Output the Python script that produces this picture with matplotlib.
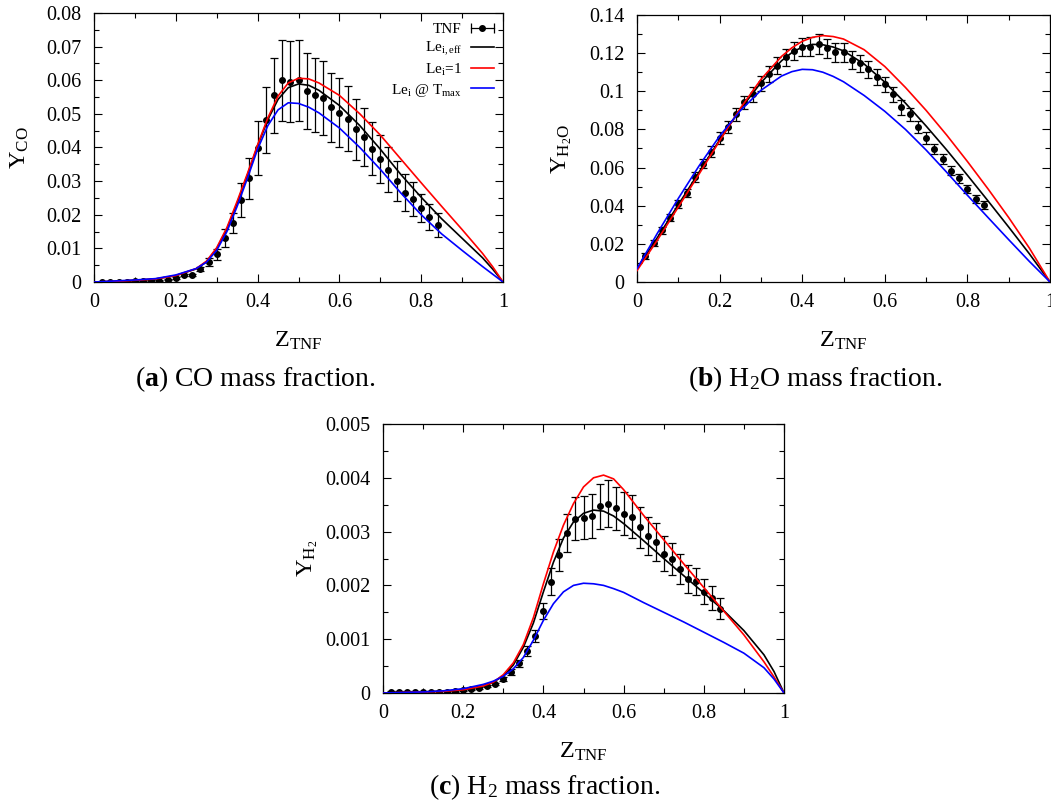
import numpy as np
import matplotlib
matplotlib.use('Agg')
import matplotlib.pyplot as plt
from matplotlib.ticker import MultipleLocator, FuncFormatter
from matplotlib.legend_handler import HandlerBase
from matplotlib.lines import Line2D
from matplotlib.container import ErrorbarContainer

plt.rcParams['font.family'] = ['Liberation Serif', 'DejaVu Serif']
plt.rcParams['mathtext.fontset'] = 'custom'
plt.rcParams['mathtext.rm'] = 'Liberation Serif'
plt.rcParams['mathtext.it'] = 'Liberation Serif:italic'
plt.rcParams['mathtext.bf'] = 'Liberation Serif:bold'

# ---------------- experimental (TNF) data ----------------
z_tnf = [0.02, 0.04, 0.06, 0.08, 0.10, 0.12, 0.14, 0.16, 0.18, 0.20, 0.22,
         0.24, 0.26, 0.28, 0.30, 0.32, 0.34, 0.36, 0.38, 0.40, 0.42, 0.44,
         0.46, 0.48, 0.50, 0.52, 0.54, 0.56, 0.58, 0.60, 0.62, 0.64, 0.66,
         0.68, 0.70, 0.72, 0.74, 0.76, 0.78, 0.80, 0.82, 0.84]

co_tnf = [0.0000, 0.0000, 0.0001, 0.0001, 0.0002, 0.0002, 0.0003, 0.0004, 0.0007,
          0.0011, 0.0020, 0.0022, 0.0039, 0.0059, 0.0082, 0.0132, 0.0176, 0.0244,
          0.0308, 0.0398, 0.0482, 0.0555, 0.0600, 0.0596, 0.0600, 0.0568, 0.0556,
          0.0546, 0.0519, 0.0504, 0.0486, 0.0454, 0.0431, 0.0397, 0.0366, 0.0334,
          0.0301, 0.0266, 0.0247, 0.0219, 0.0194, 0.0169]
co_err = [0.0001, 0.0001, 0.0001, 0.0001, 0.0001, 0.0001, 0.0002, 0.0002, 0.0002,
          0.0003, 0.0003, 0.0003, 0.0007, 0.0012, 0.0016, 0.0027, 0.0030, 0.0050,
          0.0062, 0.0080, 0.0097, 0.0112, 0.0120, 0.0120, 0.0120, 0.0113, 0.0111,
          0.0110, 0.0104, 0.0102, 0.0097, 0.0090, 0.0087, 0.0080, 0.0072, 0.0067,
          0.0060, 0.0054, 0.0050, 0.0042, 0.0038, 0.0035]

h2o_tnf = [0.0135, 0.0205, 0.0271, 0.0338, 0.0408, 0.0467, 0.0551, 0.0621, 0.0683,
           0.0756, 0.0814, 0.0879, 0.0942, 0.0984, 0.1041, 0.1090, 0.1134, 0.1178,
           0.1213, 0.1234, 0.1234, 0.1248, 0.1225, 0.1204, 0.1204, 0.1164, 0.1146,
           0.1115, 0.1073, 0.1036, 0.0984, 0.0915, 0.0879, 0.0814, 0.0756, 0.0698,
           0.0646, 0.0583, 0.0543, 0.0488, 0.0436, 0.0404]
h2o_err = [0.0015, 0.0015, 0.0018, 0.0018, 0.0020, 0.0020, 0.0025, 0.0025, 0.0030,
           0.0030, 0.0032, 0.0035, 0.0035, 0.0038, 0.0040, 0.0042, 0.0045, 0.0045,
           0.0048, 0.0048, 0.0050, 0.0050, 0.0050, 0.0050, 0.0048, 0.0048, 0.0045,
           0.0045, 0.0042, 0.0040, 0.0040, 0.0038, 0.0035, 0.0032, 0.0030, 0.0028,
           0.0026, 0.0024, 0.0022, 0.0020, 0.0020, 0.0020]

h2_tnf = [0.00002, 0.00002, 0.00002, 0.00002, 0.00001, 0.00001, 0.00001, 0.00002,
          0.00004, 0.00006, 0.00007, 0.00010, 0.00013, 0.00016, 0.00026, 0.00039,
          0.00055, 0.00078, 0.00106, 0.00152, 0.00207, 0.00256, 0.00297, 0.00324,
          0.00326, 0.00329, 0.00347, 0.00352, 0.00343, 0.00333, 0.00328, 0.00308,
          0.00292, 0.00281, 0.00259, 0.00249, 0.00230, 0.00212, 0.00208, 0.00188,
          0.00177, 0.00157]
h2_err = [0.00002, 0.00002, 0.00002, 0.00002, 0.00002, 0.00002, 0.00002, 0.00002,
          0.00002, 0.00002, 0.00002, 0.00002, 0.00002, 0.00002, 0.00003, 0.00005,
          0.00007, 0.00010, 0.00012, 0.00015, 0.00025, 0.00030, 0.00035, 0.00040,
          0.00040, 0.00040, 0.00042, 0.00043, 0.00040, 0.00040, 0.00040, 0.00038,
          0.00036, 0.00035, 0.00033, 0.00030, 0.00028, 0.00026, 0.00025, 0.00023,
          0.00022, 0.00020]

# ---------------- model curves ----------------
z_a = [0, 0.05, 0.1, 0.15, 0.2, 0.25, 0.275, 0.3, 0.325, 0.35, 0.375, 0.4, 0.425,
       0.45, 0.475, 0.5, 0.525, 0.55, 0.6, 0.65, 0.7, 0.75, 0.8, 0.85, 0.9, 0.95,
       0.975, 1.0]
co_eff = [0, 0.0002, 0.0005, 0.0009, 0.0019, 0.0039, 0.0060, 0.0099, 0.0158, 0.0235,
          0.0318, 0.0405, 0.0483, 0.0543, 0.0578, 0.0589, 0.0585, 0.0570, 0.0525,
          0.0465, 0.0395, 0.0320, 0.0252, 0.0188, 0.0130, 0.0072, 0.0038, 0]
co_le1 = [0, 0.0002, 0.0005, 0.0009, 0.0019, 0.0040, 0.0062, 0.0102, 0.0162, 0.0240,
          0.0322, 0.0408, 0.0488, 0.0553, 0.0592, 0.0606, 0.0604, 0.0592, 0.0555,
          0.0500, 0.0437, 0.0366, 0.0295, 0.0225, 0.0156, 0.0085, 0.0045, 0]
co_tmax = [0, 0.0003, 0.0006, 0.0010, 0.0021, 0.0040, 0.0059, 0.0094, 0.0150, 0.0225,
           0.0308, 0.0395, 0.0465, 0.0512, 0.0533, 0.0531, 0.0520, 0.0503, 0.0458,
           0.0400, 0.0335, 0.0265, 0.0200, 0.0143, 0.0094, 0.0046, 0.0023, 0]

z_b = [0, 0.05, 0.1, 0.15, 0.2, 0.25, 0.3, 0.35, 0.375, 0.4, 0.425, 0.45, 0.475,
       0.5, 0.55, 0.6, 0.65, 0.7, 0.75, 0.8, 0.85, 0.9, 0.95, 1.0]
h2o_eff = [0.0070, 0.0235, 0.0405, 0.0575, 0.0745, 0.0905, 0.1045, 0.1160, 0.1203,
           0.1232, 0.1246, 0.1244, 0.1232, 0.1212, 0.1143, 0.1048, 0.0938, 0.0818,
           0.0692, 0.0560, 0.0425, 0.0288, 0.0148, 0]
h2o_le1 = [0.0060, 0.0222, 0.0393, 0.0565, 0.0740, 0.0910, 0.1062, 0.1183, 0.1228,
           0.1262, 0.1283, 0.1292, 0.1287, 0.1274, 0.1218, 0.1130, 0.1020, 0.0900,
           0.0770, 0.0632, 0.0488, 0.0338, 0.0178, 0]
h2o_tmax = [0.0070, 0.0258, 0.0438, 0.0608, 0.0765, 0.0898, 0.1005, 0.1080, 0.1103,
            0.1115, 0.1113, 0.1100, 0.1078, 0.1050, 0.0978, 0.0895, 0.0800, 0.0692,
            0.0575, 0.0455, 0.0338, 0.0222, 0.0108, 0]

z_c = [0, 0.05, 0.1, 0.15, 0.2, 0.25, 0.275, 0.3, 0.325, 0.35, 0.375, 0.4, 0.425,
       0.45, 0.475, 0.5, 0.525, 0.55, 0.575, 0.6, 0.65, 0.7, 0.75, 0.8, 0.85, 0.9,
       0.95, 0.975, 1.0]
h2_eff = [0, 0.00001, 0.00002, 0.00003, 0.00006, 0.00013, 0.00020, 0.00032, 0.00052,
          0.00085, 0.00130, 0.00188, 0.00243, 0.00288, 0.00318, 0.00334, 0.00340,
          0.00338, 0.00329, 0.00315, 0.00283, 0.00250, 0.00218, 0.00186, 0.00153,
          0.00116, 0.00071, 0.00040, 0]
h2_le1 = [0, 0.00001, 0.00002, 0.00003, 0.00006, 0.00013, 0.00020, 0.00034, 0.00056,
          0.00090, 0.00140, 0.00203, 0.00262, 0.00312, 0.00352, 0.00383, 0.00400,
          0.00405, 0.00398, 0.00378, 0.00330, 0.00285, 0.00240, 0.00196, 0.00152,
          0.00108, 0.00058, 0.00030, 0]
h2_tmax = [0, 0.00001, 0.00002, 0.00004, 0.00008, 0.00016, 0.00022, 0.00031, 0.00045,
           0.00066, 0.00098, 0.00135, 0.00166, 0.00188, 0.00200, 0.00204, 0.00203,
           0.00200, 0.00194, 0.00187, 0.00168, 0.00150, 0.00132, 0.00113, 0.00094,
           0.00074, 0.00047, 0.00026, 0]

labels = ['TNF', r'Le$_{\mathrm{i,eff}}$', r'Le$_{\mathrm{i}}$=1',
          r'Le$_{\mathrm{i}}$ @ T$_{\mathrm{max}}$']
colors = ['black', '#ff0000', '#0000ff']


class ErrHandler(HandlerBase):
    def create_artists(self, legend, orig_handle, xdescent, ydescent,
                       width, height, fontsize, trans):
        y = (height - ydescent) / 2
        x0 = -xdescent
        x1 = -xdescent + width
        line = Line2D([x0, x1], [y, y], color='black', lw=0.9)
        caps = Line2D([x0, x1], [y, y], ls='none', marker='|', ms=7,
                      mew=0.9, color='black')
        dot = Line2D([(x0 + x1) / 2], [y], ls='none', marker='o', ms=4,
                     color='black')
        for a in (line, caps, dot):
            a.set_transform(trans)
        return [line, caps, dot]


fmt = FuncFormatter(lambda v, p: '%g' % round(v, 6))


def draw(ax, z_exp, y_exp, e_exp, z_mod, curves, ymax, ymaj, ymin):
    eb = ax.errorbar(z_exp, y_exp, yerr=e_exp, fmt='o', color='black', ms=4,
                     capsize=2.6, elinewidth=0.9, capthick=0.9, zorder=2)
    lines = []
    for yv, c in zip(curves, colors):
        ln, = ax.plot(z_mod, yv, color=c, lw=1.2, zorder=3)
        lines.append(ln)
    ax.set_xlim(0, 1)
    ax.set_ylim(0, ymax)
    ax.xaxis.set_major_locator(MultipleLocator(0.2))
    ax.xaxis.set_minor_locator(MultipleLocator(0.1))
    ax.yaxis.set_major_locator(MultipleLocator(ymaj))
    ax.yaxis.set_minor_locator(MultipleLocator(ymin))
    ax.xaxis.set_major_formatter(fmt)
    ax.yaxis.set_major_formatter(fmt)
    ax.tick_params(which='both', direction='in', top=True, right=True,
                   width=0.8, labelsize=14.5)
    ax.tick_params(which='major', length=6)
    ax.tick_params(which='minor', length=3.5)
    ax.tick_params(axis='y', pad=9)
    ax.tick_params(axis='x', pad=8)
    for s in ax.spines.values():
        s.set_linewidth(0.9)
    ax.set_xlabel(r'Z$_{\mathrm{TNF}}$', fontsize=17.5, va='center')
    ax.xaxis.set_label_coords(0.5, -59 / 269)
    return eb, lines


fig = plt.figure(figsize=(10.51, 8.08), dpi=100)
W, H = 1051, 808
axa = fig.add_axes([94 / W, 1 - 282 / H, 409 / W, 269 / H])
axb = fig.add_axes([637 / W, 1 - 282 / H, 413 / W, 267 / H])
axc = fig.add_axes([383 / W, 1 - 693 / H, 401 / W, 269 / H])

eb, lines = draw(axa, z_tnf, co_tnf, co_err, z_a, [co_eff, co_le1, co_tmax],
                 0.08, 0.01, 0.005)
draw(axb, z_tnf, h2o_tnf, h2o_err, z_b, [h2o_eff, h2o_le1, h2o_tmax],
     0.14, 0.02, 0.01)
draw(axc, z_tnf, h2_tnf, h2_err, z_c, [h2_eff, h2_le1, h2_tmax],
     0.005, 0.001, 0.0005)

axa.set_ylabel(r'Y$_{\mathrm{CO}}$', fontsize=17.5, va='center')
axa.yaxis.set_label_coords(-74 / 409, 0.5)
axb.set_ylabel(r'Y$_{\mathrm{H_2O}}$', fontsize=17.5, va='center')
axb.yaxis.set_label_coords(-75 / 413, 0.5)
axc.set_ylabel(r'Y$_{\mathrm{H_2}}$', fontsize=17.5, va='center')
axc.yaxis.set_label_coords(-75 / 401, 0.5)

leg = axa.legend([eb] + lines, labels, loc='upper right', markerfirst=False,
                 frameon=False, fontsize=11, handlelength=1.5,
                 handletextpad=0.6, labelspacing=0.25, borderaxespad=0.3,
                 borderpad=0.3, handler_map={ErrorbarContainer: ErrHandler()})

fig.text(255 / W, 1 - 379 / H, r'($\mathbf{a}$) CO mass fraction.',
         ha='center', va='center', fontsize=20)
fig.text(815 / W, 1 - 379 / H, r'($\mathbf{b}$) H$_2$O mass fraction.',
         ha='center', va='center', fontsize=20)
fig.text(545 / W, 1 - 787 / H, r'($\mathbf{c}$) H$_2$ mass fraction.',
         ha='center', va='center', fontsize=20)

fig.savefig('out.png', dpi=100)
